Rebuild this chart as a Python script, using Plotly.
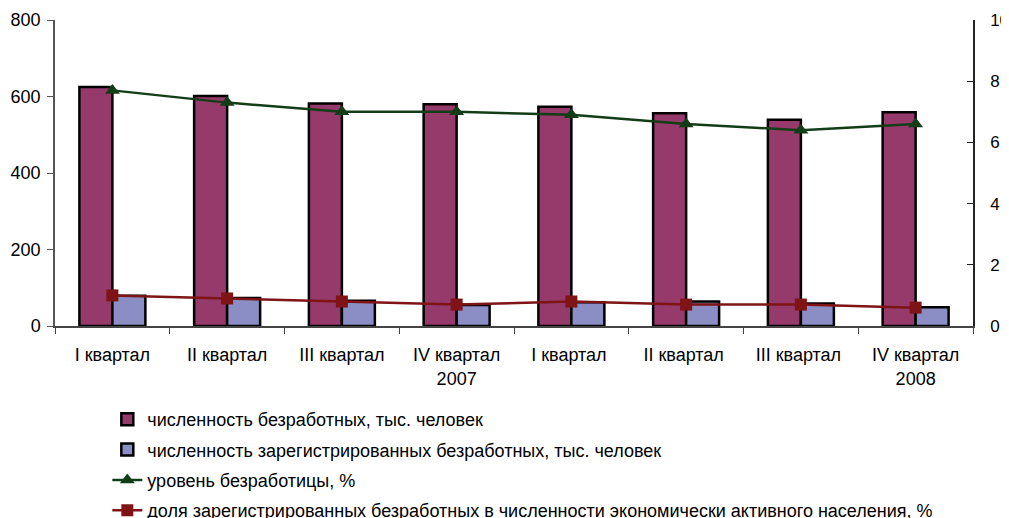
import plotly.graph_objects as go

categories = ["I квартал", "II квартал", "III квартал", "IV квартал<br>2007",
              "I квартал ", "II квартал ", "III квартал ", "IV квартал<br>2008"]
unemployed = [625, 601, 582, 580, 573, 556, 539, 559]
registered = [79, 73, 66, 55, 62, 64, 59, 49]
unemp_rate = [7.7, 7.3, 7.0, 7.0, 6.9, 6.6, 6.4, 6.6]
reg_share = [1.0, 0.9, 0.8, 0.7, 0.8, 0.7, 0.7, 0.6]

names = ["численность безработных, тыс. человек",
         "численность зарегистрированных безработных, тыс. человек",
         "уровень безработицы, %",
         "доля зарегистрированных безработных в численности экономически активного населения, %"]

FONT = "Liberation Sans, Arial, sans-serif"

fig = go.Figure()
fig.add_trace(go.Bar(x=categories, y=unemployed, name=names[0], legendgroup="a",
                     marker=dict(color="#953A6B", line=dict(color="black", width=2.5))))
fig.add_trace(go.Bar(x=categories, y=registered, name=names[1], legendgroup="b",
                     marker=dict(color="#8B8EC4", line=dict(color="black", width=2.5))))
fig.add_trace(go.Scatter(x=categories, y=unemp_rate, name=names[2], yaxis="y2",
                         legendgroup="c", mode="lines+markers",
                         line=dict(color="#133D17", width=2.5),
                         marker=dict(symbol="triangle-up", size=13, color="#133D17")))
fig.add_trace(go.Scatter(x=categories, y=reg_share, name=names[3], yaxis="y2",
                         legendgroup="d", mode="lines+markers",
                         line=dict(color="#7E1416", width=2.5),
                         marker=dict(symbol="square", size=12, color="#7E1416")))

# page has an 8px body margin: figure is offset by 8px, so shrink accordingly
fig.update_layout(
    width=1001, height=510,
    margin=dict(l=47, r=36, t=12, b=192, autoexpand=False),
    paper_bgcolor="white", plot_bgcolor="white",
    font=dict(family=FONT, size=18, color="black"),
    barmode="group", bargap=0.425, bargroupgap=0,
    showlegend=True,
    legend=dict(x=0.057, y=-0.245, xanchor="left", yanchor="top",
                font=dict(size=18, color="black"), tracegroupgap=4,
                bgcolor="rgba(0,0,0,0)"),
    xaxis=dict(showline=True, linecolor="#444", linewidth=1.5,
               ticks="outside", ticklen=6, tickcolor="#444", tickson="boundaries",
               showgrid=False, tickfont=dict(size=18), ticklabelstandoff=12),
    yaxis=dict(range=[0, 800], dtick=200, showline=True, linecolor="#555", linewidth=1.5,
               ticks="outside", ticklen=6, tickcolor="#555", showgrid=False,
               zeroline=False, tickfont=dict(size=18), ticklabelstandoff=3),
    yaxis2=dict(range=[0, 10], dtick=2, overlaying="y", side="right",
                showline=True, linecolor="#222", linewidth=1.5,
                ticks="inside", ticklen=6, tickcolor="#222", showgrid=False,
                zeroline=False, tickfont=dict(size=17), ticklabelstandoff=12),
    yaxis3=dict(range=[0, 800], dtick=200, overlaying="y", side="left", anchor="x",
                showline=False, ticks="inside", ticklen=6, tickcolor="#555",
                showgrid=False, zeroline=False, showticklabels=False),
    yaxis4=dict(range=[0, 10], dtick=2, overlaying="y", side="right", anchor="x",
                showline=False, ticks="outside", ticklen=6, tickcolor="#222",
                showgrid=False, zeroline=False, showticklabels=False),
)

fig.write_html("out.html")
